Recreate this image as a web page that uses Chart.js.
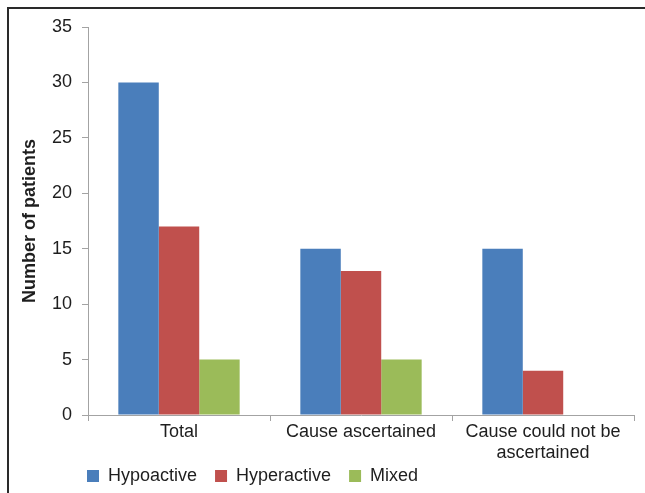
<!DOCTYPE html>
<html>
<head>
<meta charset="utf-8">
<script src="https://cdn.jsdelivr.net/npm/chart.js@4/dist/chart.umd.min.js"></script>
<style>
  html, body { margin: 0; padding: 0; background: #fff; }
  #wrap { position: relative; width: 645px; height: 493px; }
  #wrap canvas { position: absolute; left: 0; top: 0; }
  #frame {
    position: absolute; left: 7px; top: 7px; right: 0; bottom: 0;
    border-left: 2px solid #2a2a2a; border-top: 2px solid #2a2a2a;
    pointer-events: none;
  }
</style>
</head>
<body>
<div id="wrap">
  <canvas id="chart" width="645" height="493"></canvas>
  <div id="frame"></div>
</div>
<script>
// Delirium subtypes by whether a cause was found
const categories = ['Total', 'Cause ascertained', ['Cause could not be', 'ascertained']];
const seriesNames = ['Hypoactive', 'Hyperactive', 'Mixed'];
const hypoactive = [30, 15, 15];
const hyperactive = [17, 13, 4];
const mixed = [5, 5, 0];
const yMin = 0, yMax = 35, yStep = 5;
const yTitle = 'Number of patients';

const FONT = "'Liberation Sans', Arial, Helvetica, sans-serif";
const TEXT = '#1e1e1e';
const AXIS = '#a3a3a3';

// Places the legend row below the x labels, starting under the y axis
const legendPlacer = {
  id: 'legendPlacer',
  afterLayout(chart) {
    const lg = chart.legend;
    if (!lg) return;
    const pad = lg.options.labels.padding;
    const w = lg.width, h = lg.height;
    lg.left = 87 - pad;
    lg.top = 476 - 9 - pad;
    lg.right = lg.left + w;
    lg.bottom = lg.top + h;
  }
};

new Chart(document.getElementById('chart'), {
  type: 'bar',
  data: {
    labels: categories,
    datasets: [
      { label: seriesNames[0], data: hypoactive, backgroundColor: '#4a7ebb' },
      { label: seriesNames[1], data: hyperactive, backgroundColor: '#c0504d' },
      { label: seriesNames[2], data: mixed, backgroundColor: '#9bbb59' }
    ]
  },
  options: {
    responsive: false,
    animation: false,
    devicePixelRatio: 1,
    layout: { padding: { top: 27, right: 11, left: 0, bottom: -20 } },
    datasets: {
      bar: { categoryPercentage: 3 / 4.5, barPercentage: 1.0, borderWidth: 0 }
    },
    scales: {
      x: {
        grid: { offset: true, drawOnChartArea: false, drawTicks: true, tickLength: 6, color: AXIS },
        border: { display: true, color: AXIS, width: 1 },
        ticks: { font: { family: FONT, size: 18 }, color: TEXT, padding: 0, maxRotation: 0, autoSkip: false },
        afterFit(scale) { scale.height = 52; }
      },
      y: {
        min: yMin, max: yMax,
        ticks: { stepSize: yStep, font: { family: FONT, size: 18 }, color: TEXT, padding: 10 },
        grid: { drawOnChartArea: false, drawTicks: true, tickLength: 6, color: AXIS },
        border: { display: true, color: AXIS, width: 1 },
        title: {
          display: true, text: yTitle, color: TEXT,
          font: { family: FONT, size: 18, weight: 'bold' },
          padding: { top: 19, bottom: 0 }
        },
        afterFit(scale) { scale.width = 88; }
      }
    },
    plugins: {
      legend: {
        position: 'bottom',
        align: 'start',
        labels: {
          font: { family: FONT, size: 18 }, color: TEXT,
          boxWidth: 12, boxHeight: 12, padding: 18
        }
      },
      tooltip: { enabled: false }
    }
  },
  plugins: [legendPlacer]
});
</script>
</body>
</html>
